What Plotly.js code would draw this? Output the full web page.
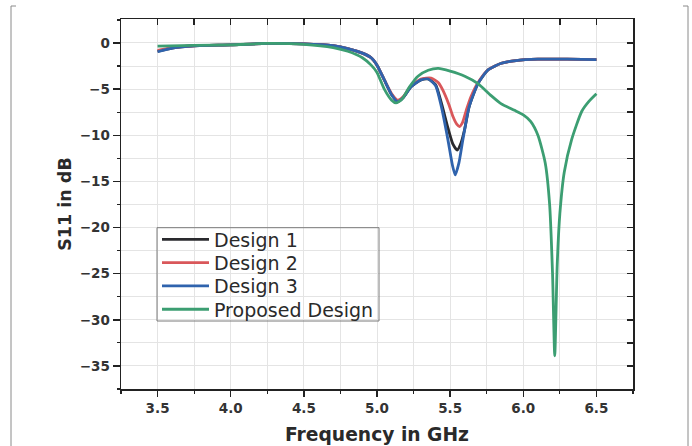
<!DOCTYPE html>
<html>
<head>
<meta charset="utf-8">
<script src="https://cdn.plot.ly/plotly-3.0.1.min.js"></script>
<style>html,body{margin:0;padding:0;background:#fff;}#chart{width:692px;height:446px;}</style>
</head>
<body>
<div id="chart"></div>
<script>
// ---- Data ----
const seriesNames = ["Design 1", "Design 2", "Design 3", "Proposed Design"];

const freqD1 = [3.5, 3.6, 3.75, 4.0, 4.25, 4.5, 4.7, 4.8, 4.9, 4.96, 5.0, 5.05, 5.1, 5.14, 5.18, 5.23, 5.3, 5.35, 5.4, 5.44, 5.485, 5.52, 5.548, 5.575, 5.6, 5.63, 5.69, 5.76, 5.85, 5.95, 6.1, 6.3, 6.5];
const s11D1  = [-0.9, -0.55, -0.3, -0.2, -0.05, -0.1, -0.3, -0.6, -1.1, -1.6, -2.4, -4.0, -5.6, -6.3, -5.9, -4.8, -4.0, -3.9, -4.5, -6.5, -9.2, -11.0, -11.6, -10.8, -9.3, -6.9, -4.4, -2.9, -2.2, -1.9, -1.75, -1.75, -1.8];

const freqD2 = [3.5, 3.6, 3.75, 4.0, 4.25, 4.5, 4.7, 4.8, 4.9, 4.96, 5.0, 5.05, 5.1, 5.142, 5.18, 5.23, 5.3, 5.37, 5.42, 5.45, 5.49, 5.52, 5.545, 5.564, 5.585, 5.61, 5.64, 5.69, 5.76, 5.85, 5.95, 6.1, 6.3, 6.5];
const s11D2  = [-0.8, -0.5, -0.3, -0.2, -0.05, -0.1, -0.3, -0.6, -1.1, -1.6, -2.4, -4.0, -5.5, -6.2, -5.8, -4.7, -3.9, -3.8, -4.3, -5.1, -6.6, -8.0, -8.8, -9.05, -8.6, -7.3, -5.9, -4.3, -2.9, -2.2, -1.9, -1.75, -1.75, -1.8];

const freqD3 = [3.5, 3.6, 3.75, 4.0, 4.25, 4.5, 4.7, 4.8, 4.9, 4.96, 5.0, 5.05, 5.1, 5.14, 5.18, 5.23, 5.3, 5.35, 5.4, 5.44, 5.485, 5.515, 5.535, 5.56, 5.587, 5.63, 5.69, 5.76, 5.85, 5.95, 6.1, 6.3, 6.5];
const s11D3  = [-0.95, -0.55, -0.3, -0.2, -0.05, -0.1, -0.3, -0.6, -1.1, -1.6, -2.4, -4.0, -5.6, -6.35, -5.9, -4.8, -4.0, -3.9, -4.6, -6.9, -10.5, -13.2, -14.3, -13.0, -10.5, -6.9, -4.4, -2.9, -2.2, -1.9, -1.75, -1.75, -1.8];

const freqP  = [3.5, 3.75, 4.0, 4.25, 4.5, 4.7, 4.8, 4.9, 4.96, 5.0, 5.05, 5.1, 5.13, 5.17, 5.22, 5.28, 5.35, 5.42, 5.5, 5.6, 5.69, 5.78, 5.85, 5.94, 6.0, 6.05, 6.1, 6.15, 6.18, 6.2, 6.215, 6.232, 6.25, 6.28, 6.33, 6.4, 6.45, 6.5];
const s11P   = [-0.35, -0.25, -0.2, -0.05, -0.15, -0.5, -0.9, -1.6, -2.4, -3.2, -5.0, -6.2, -6.5, -6.1, -4.8, -3.6, -2.95, -2.75, -3.05, -3.6, -4.4, -5.7, -6.6, -7.3, -7.8, -8.5, -10.0, -13.0, -17.5, -25.0, -33.9, -24.0, -18.5, -14.0, -10.5, -7.4, -6.3, -5.5];

const xTickVals = [3.5, 4.0, 4.5, 5.0, 5.5, 6.0, 6.5];
const xTickText = ["3.5", "4.0", "4.5", "5.0", "5.5", "6.0", "6.5"];
const yTickVals = [0, -5, -10, -15, -20, -25, -30, -35];

// ---- Styling ----
const FONT = "DejaVu Sans, Liberation Sans, Arial, sans-serif";
const colors = ["#2a2a2e", "#d9575a", "#2f63ad", "#3c9e72"];
const xs = [freqD1, freqD2, freqD3, freqP];
const ys = [s11D1, s11D2, s11D3, s11P];
const legendIds = ["legend", "legend2", "legend3", "legend4"];

const traces = seriesNames.map((n, i) => ({
  type: "scatter", mode: "lines", name: n,
  x: xs[i], y: ys[i], legend: legendIds[i],
  line: {color: colors[i], width: 2.8, shape: "spline", smoothing: 0.6}
}));
// invisible helper trace for the inner top/right tick axes
traces.push({type: "scatter", mode: "lines", x: [], y: [], xaxis: "x2", yaxis: "y2",
  showlegend: false, hoverinfo: "skip"});

const xRange = [3.25, 6.75];
const yRange = [-37.5, 2.6];
const tickFont = {family: FONT, size: 13.5, color: "#333", weight: "bold"};

// plot area in pixels: x 121..633, y 19..389
const px = v => (v - 121) / 512;
const py = v => (389 - v) / 370;

const legendRowY = [239.5, 262.8, 286.1, 309.4];
function legendBox(rowY) {
  return {
    x: px(157), y: py(rowY), xanchor: "left", yanchor: "middle",
    bgcolor: "rgba(255,255,255,0)", borderwidth: 0, itemwidth: 47,
    font: {family: FONT, size: 19, color: "#2a2a2a"}
  };
}

const layout = {
  width: 692, height: 446,
  margin: {l: 121, r: 59, t: 19, b: 57, pad: 0},
  paper_bgcolor: "#fff", plot_bgcolor: "#fff",
  font: {family: FONT, color: "#222"},
  showlegend: true,
  legend: legendBox(legendRowY[0]),
  legend2: legendBox(legendRowY[1]),
  legend3: legendBox(legendRowY[2]),
  legend4: legendBox(legendRowY[3]),
  xaxis: {
    range: xRange, tickmode: "array", tickvals: xTickVals, ticktext: xTickText,
    ticks: "outside", ticklen: 6, tickwidth: 1.5, tickcolor: "#222",
    showline: true, linecolor: "#222", linewidth: 1.5, mirror: true,
    showgrid: false, zeroline: false, tickfont: tickFont,
    minor: {dtick: 0.25, tick0: 3.25, ticks: "outside", ticklen: 3, tickwidth: 1.2, tickcolor: "#222",
            showgrid: true, gridcolor: "#e4e4e4", gridwidth: 1},
    title: {text: "Frequency in GHz", standoff: 13,
            font: {family: FONT, size: 18.7, weight: "bold", color: "#2a2a2a"}}
  },
  yaxis: {
    range: yRange, tickmode: "array", tickvals: yTickVals,
    ticks: "outside", ticklen: 7, tickwidth: 1.5, tickcolor: "#222",
    showline: true, linecolor: "#222", linewidth: 1.5, mirror: true,
    showgrid: false, zeroline: false, tickfont: tickFont,
    minor: {dtick: 2.5, tick0: 0, ticks: "outside", ticklen: 3, tickwidth: 1.2, tickcolor: "#222",
            showgrid: true, gridcolor: "#e4e4e4", gridwidth: 1},
    title: {text: "S11 in dB", standoff: 3,
            font: {family: FONT, size: 17.5, weight: "bold", color: "#2a2a2a"}}
  },
  xaxis2: {
    overlaying: "x", side: "top", anchor: "y2", range: xRange,
    tickmode: "linear", tick0: 3.25, dtick: 0.25, ticks: "inside", ticklen: 6, tickwidth: 1.5, tickcolor: "#222",
    showticklabels: false, showgrid: false, zeroline: false, showline: false
  },
  yaxis2: {
    overlaying: "y", side: "right", anchor: "x2", range: yRange,
    tickmode: "linear", tick0: 0, dtick: 2.5, ticks: "inside", ticklen: 6, tickwidth: 1.5, tickcolor: "#222",
    showticklabels: false, showgrid: false, zeroline: false, showline: false
  },
  shapes: [
    // legend frame
    {type: "rect", xref: "paper", yref: "paper", x0: px(157), x1: px(379), y0: py(227.7), y1: py(321),
     line: {color: "#7a7a7a", width: 1}, fillcolor: "rgba(0,0,0,0)"},
    // faint outer frame corners of the original image
    {type: "line", xref: "paper", yref: "paper", x0: px(11), x1: px(11), y0: py(6), y1: py(446),
     line: {color: "#8a8a8a", width: 1}},
    {type: "line", xref: "paper", yref: "paper", x0: px(11), x1: px(16), y0: py(6), y1: py(6),
     line: {color: "#8a8a8a", width: 1}},
    {type: "line", xref: "paper", yref: "paper", x0: px(688), x1: px(688), y0: py(6), y1: py(446),
     line: {color: "#8a8a8a", width: 1}},
    {type: "line", xref: "paper", yref: "paper", x0: px(683), x1: px(688), y0: py(6), y1: py(6),
     line: {color: "#8a8a8a", width: 1}}
  ]
};

Plotly.newPlot("chart", traces, layout, {displayModeBar: false, staticPlot: true});
</script>
</body>
</html>
